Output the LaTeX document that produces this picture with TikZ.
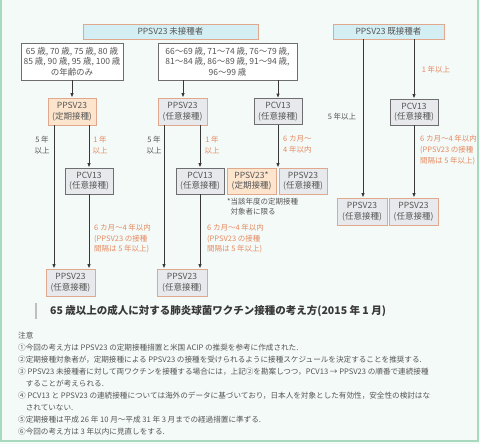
\documentclass[tikz,border=0pt]{standalone}
\usepackage{fontspec}
\setmainfont{Noto Sans CJK JP}
\usetikzlibrary{arrows.meta,positioning}
\definecolor{bgmint}{HTML}{F4FAF7}
\definecolor{framegrn}{HTML}{A8D8BE}
\definecolor{cyanfill}{HTML}{D3EFF4}
\definecolor{salmon}{HTML}{E2A88E}
\definecolor{orafill}{HTML}{FCE4CD}
\definecolor{gryfill}{HTML}{E7E9EC}
\definecolor{darkline}{HTML}{6E6E6E}
\definecolor{txtgray}{HTML}{555555}
\definecolor{txtora}{HTML}{E58A62}
\definecolor{arrowc}{HTML}{383838}

\begin{document}
\begin{tikzpicture}[x=1pt, y=-1pt,
bx/.style={draw, line width=0.8pt, inner sep=0pt, align=center, text=txtgray,
  font=\fontsize{8.5}{10.5}\selectfont, minimum width=48pt, minimum height=27pt},
bxcyan/.style={bx, fill=cyanfill, draw=salmon, minimum height=15pt},
bxage/.style={bx, fill=white, draw=darkline, minimum height=37pt},
bxora/.style={bx, fill=orafill, draw=salmon},
bxgry/.style={bx, fill=gryfill, draw=salmon},
bxpcv/.style={bx, fill=gryfill, draw=darkline, minimum height=26pt},
lbl/.style={inner sep=0pt, align=center, text=txtgray, font=\fontsize{7.5}{11}\selectfont},
lblo/.style={lbl, text=txtora},
myto/.style={-{Latex[length=4.5pt, width=3.5pt]}, line width=1pt, draw=arrowc}
]
\useasboundingbox (0,0) rectangle (480,444);
\fill[bgmint] (0,0) rectangle (480,444);
\draw[framegrn, line width=1.5pt] (1,-2) -- (1,441) -- (478,441) -- (478,-2);

% top row
\node[bxcyan, minimum width=175pt] (top1) at (170.5,31.5) {PPSV23 未接種者};
\node[bxcyan, minimum width=111pt] (top2) at (388.5,31.5) {PPSV23 既接種者};
\node[bxage, minimum width=102pt] (ageA) at (72,61.5) {65 歳, 70 歳, 75 歳, 80 歳\\85 歳, 90 歳, 95 歳, 100 歳\\の年齢のみ};
\node[bxage, minimum width=139pt] (ageB) at (227.5,61.5) {66～69 歳, 71～74 歳, 76～79 歳,\\81～84 歳, 86～89 歳, 91～94 歳,\\96～99 歳};

% second row
\node[bxora] (c1) at (72,111.5) {PPSV23\\(定期接種)};
\node[bxgry, minimum width=49pt] (c2) at (182.5,111.5) {PPSV23\\(任意接種)};
\node[bxpcv] (c3) at (278,111.5) {PCV13\\(任意接種)};
\node[bxpcv] (pcvR) at (414,112) {PCV13\\(任意接種)};

% third row
\node[bxpcv] (pcvA) at (89,181) {PCV13\\(任意接種)};
\node[bxpcv] (pcvB) at (200,181) {PCV13\\(任意接種)};
\node[bxora, minimum width=49pt, minimum height=26pt] (d1) at (251.5,181) {PPSV23*\\(定期接種)};
\node[bxgry, minimum height=26pt] (d2) at (303,181) {PPSV23\\(任意接種)};
\node[bxgry, minimum width=50pt] (finR1) at (362,211.5) {PPSV23\\(任意接種)};
\node[bxgry, minimum width=49pt] (finR2) at (413.5,211.5) {PPSV23\\(任意接種)};

% bottom row
\node[bxgry, minimum width=49pt] (finA) at (70.5,282.5) {PPSV23\\(任意接種)};
\node[bxgry, minimum width=50pt] (finB) at (182,282.5) {PPSV23\\(任意接種)};

\foreach \a/\b/\s in {ageA/c1/0, ageB/c2/-44.5, ageB/c3/50.5, c1/finA/-18, c1/pcvA/17,
  pcvA/finA/0, c2/finB/-18.5, c2/pcvB/17.5, pcvB/finB/0, c3/d1/0,
  top2/finR1/-25.5, top2/pcvR/25.5, pcvR/finR2/0}
  {\draw[myto] ([xshift=\s pt]\a.south) -- ([xshift=\s pt]\a.south |- \b.north);}

% interval labels
\node[lbl] (iA5) at (42,145) {5 年\\以上};
\node[lblo] (iA1) at (100,145) {1 年\\以上};
\node[lbl] (iB5) at (154,145) {5 年\\以上};
\node[lblo] (iB1) at (212,145) {1 年\\以上};
\node[lblo, anchor=west, align=left, font=\fontsize{7.5}{10.5}\selectfont] (iA6) at (94,239) {6 カ月～4 年以内\\(PPSV23 の接種\\間隔は 5 年以上)};
\node[lblo, anchor=west, align=left, font=\fontsize{7.5}{10.5}\selectfont] (iB6) at (207,239) {6 カ月～4 年以内\\(PPSV23 の接種\\間隔は 5 年以上)};
\node[lblo, anchor=west, align=left] (iC6) at (283,144.5) {6 カ月～\\4 年以内};
\node[lbl, anchor=west, align=left, font=\fontsize{7.5}{10}\selectfont] (note) at (227,207) {*当該年度の定期接種\\\hphantom{*}対象者に限る};
\node[lbl] (iR5) at (342,117) {5 年以上};
\node[lblo] (iR1) at (436,70) {1 年以上};
\node[lblo, anchor=west, align=left, font=\fontsize{7.5}{11}\selectfont] (iR6) at (420,150) {6 カ月～4 年以内\\(PPSV23 の接種\\間隔は 5 年以上)};

% caption and notes
\draw[black!25, line width=1.5pt] (36,303) -- (36,319);
\node[anchor=west, inner sep=0pt, text=arrowc, font=\fontsize{10.5}{12}\selectfont\bfseries] (cap) at (50,311)
  {65 歳以上の成人に対する肺炎球菌ワクチン接種の考え方(2015 年 1 月)};
\node[anchor=north west, inner sep=0pt, align=left, text=txtgray, font=\fontsize{7.6}{12}\selectfont] (notes) at (18,332)
  {注意\\
  ①今回の考え方は PPSV23 の定期接種措置と米国 ACIP の推奨を参考に作成された.\\
  ②定期接種対象者が，定期接種による PPSV23 の接種を受けられるように接種スケジュールを決定することを推奨する.\\
  ③ PPSV23 未接種者に対して両ワクチンを接種する場合には，上記②を勘案しつつ，PCV13 → PPSV23 の順番で連続接種\\
  \hspace*{1em}することが考えられる.\\
  ④ PCV13 と PPSV23 の連続接種については海外のデータに基づいており，日本人を対象とした有効性，安全性の検討はな\\
  \hspace*{1em}されていない.\\
  ⑤定期接種は平成 26 年 10 月～平成 31 年 3 月までの経過措置に準ずる.\\
  ⑥今回の考え方は 3 年以内に見直しをする.};
\end{tikzpicture}
\end{document}
